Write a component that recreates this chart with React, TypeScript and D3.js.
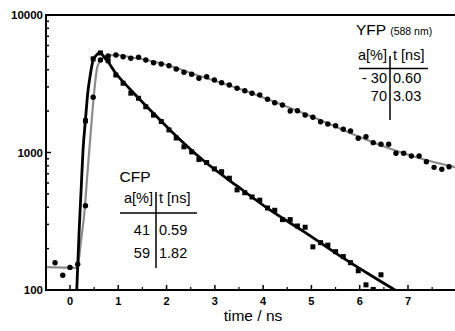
import * as d3 from "d3";
import React from "react";

// time channels (ns) shared by both decays
const times = [
  -0.31, -0.15, 0.0, 0.16, 0.32, 0.48, 0.63, 0.79, 0.95, 1.1, 1.26, 1.42, 1.57, 1.73,
  1.89, 2.05, 2.2, 2.36, 2.52, 2.67, 2.83, 2.99, 3.14, 3.3, 3.46, 3.62, 3.77, 3.93,
  4.09, 4.24, 4.4, 4.56, 4.71, 4.87, 5.03, 5.19, 5.34, 5.5, 5.66, 5.81, 5.97, 6.13,
  6.28, 6.44, 6.6, 6.75, 6.91, 7.07, 7.23, 7.38, 7.54, 7.7, 7.85,
];

// YFP counts (circles)
const yfpCounts = [
  158, 128, 146, 154, 410, 2520, 4708, 5033, 5117, 4974, 4843, 4925, 4708, 4499,
  4402, 4279, 4050, 3831, 3705, 3464, 3558, 3368, 3218, 3097, 2931, 2816, 2695, 2619,
  2437, 2302, 2216, 2004, 2014, 1874, 1803, 1675, 1612, 1566, 1475, 1434, 1269, 1303,
  1179, 1147, 1147, 987, 987, 943, 943, 857, 780, 755, 788,
];

// CFP counts (squares), channels 4..43 (others below 100)
const cfpStart = 4;
const cfpCounts = [
  1700, 4800, 5300, 4650, 3660, 3190, 2700, 2480, 2150, 1870, 1680, 1460, 1275, 1100,
  1010, 890, 845, 760, 725, 650, 535, 510, 475, 450, 395, 380, 325, 325, 292, 286,
  206, 221, 212, 190, 175, 158, 138, 109, 101, 129,
];

// fit curves
const cfpFitT = [0.14, 0.19, 0.23, 0.27, 0.32, 0.37, 0.41, 0.48, 0.55, 0.61, 0.66, 0.72, 0.79, 0.93, 1.24, 1.66, 2.07, 2.75, 3.46, 4.14, 4.82, 5.59, 6.21, 6.73];
const cfpFitV = [100, 273, 533, 1040, 1725, 2754, 3482, 4708, 5117, 5300, 5200, 4870, 4552, 3850, 2896, 2038, 1458, 882, 571, 382, 269, 177, 129, 100];

const yfpFitT = [-0.6, 0.15, 0.23, 0.31, 0.35, 0.4, 0.45, 0.52, 0.565, 0.636, 0.745, 0.95, 1.24, 1.86, 2.69, 3.52, 4.35, 5.18, 6.0, 6.83, 7.45, 8.0];
const yfpFitV = [147, 145, 231, 408, 631, 1042, 1722, 3204, 4186, 4700, 5035, 5117, 4950, 4477, 3601, 2896, 2253, 1723, 1297, 1008, 867, 780];

const xTicks = [0, 1, 2, 3, 4, 5, 6, 7];
const xMinor = [-0.5, 0.5, 1.5, 2.5, 3.5, 4.5, 5.5, 6.5, 7.5];
const yLabels = [100, 1000, 10000];
const yMinor = [200, 300, 400, 500, 600, 700, 800, 900, 2000, 3000, 4000, 5000, 6000, 7000, 8000, 9000];

const W = 455;
const H = 331;
const left = 46;
const right = 455;
const top = 15;
const bottom = 290;

export default function App() {
  const x = d3.scaleLinear().domain([0, 7]).range([70, 408]);
  const y = d3.scaleLog().domain([100, 10000]).range([bottom, top]);

  const line = d3
    .line<[number, number]>()
    .x((d) => x(d[0]))
    .y((d) => y(d[1]))
    .curve(d3.curveMonotoneX);

  const cfpFit = cfpFitT.map((t, i) => [t, cfpFitV[i]] as [number, number]);
  const yfpFit = yfpFitT.map((t, i) => [t, yfpFitV[i]] as [number, number]);
  const cfpPts = cfpCounts.map((v, i) => [times[i + cfpStart], v]);
  const yfpPts = yfpCounts.map((v, i) => [times[i], v]);

  const font = "Liberation Sans, Arial, sans-serif";

  return (
    <svg
      width={W}
      height={H}
      style={{ position: "absolute", left: 0, top: 0, background: "#fff" }}
      fontFamily={font}
    >
      <defs>
        <clipPath id="plot">
          <rect x={left} y={top} width={right - left} height={bottom - top} />
        </clipPath>
      </defs>

      <g clipPath="url(#plot)">
        <path d={line(yfpFit) || ""} fill="none" stroke="#8c8c8c" strokeWidth={2.2} />
        {yfpPts.map((d, i) => (
          <circle key={"y" + i} cx={x(d[0])} cy={y(d[1])} r={2.7} fill="#000" />
        ))}
        <path d={line(cfpFit) || ""} fill="none" stroke="#000" strokeWidth={2.8} />
        {cfpPts.map((d, i) => (
          <rect key={"c" + i} x={x(d[0]) - 2.5} y={y(d[1]) - 2.5} width={5} height={5} fill="#000" />
        ))}
      </g>

      {/* frame */}
      <line x1={left} x2={right} y1={top} y2={top} stroke="#000" strokeWidth={2} />
      <line x1={left} x2={right} y1={bottom} y2={bottom} stroke="#000" strokeWidth={2} />
      <line x1={left} x2={left} y1={top - 1} y2={bottom + 1} stroke="#000" strokeWidth={2} />

      {/* y ticks */}
      {yMinor.map((v) => (
        <line key={v} x1={left} x2={left + 3} y1={y(v)} y2={y(v)} stroke="#000" strokeWidth={1.5} />
      ))}
      {yLabels.map((v) => (
        <g key={v}>
          <line x1={left} x2={left + 5} y1={y(v)} y2={y(v)} stroke="#000" strokeWidth={1.5} />
          <text x={43} y={y(v) + 4} textAnchor="end" fontSize={11.5} fontWeight="bold">
            {v}
          </text>
        </g>
      ))}

      {/* x ticks */}
      {xMinor.map((t) => (
        <line key={t} x1={x(t)} x2={x(t)} y1={bottom} y2={bottom - 3} stroke="#000" strokeWidth={1.2} />
      ))}
      {xTicks.map((t) => (
        <g key={t}>
          <line x1={x(t)} x2={x(t)} y1={bottom} y2={bottom - 5} stroke="#000" strokeWidth={1.5} />
          <text x={x(t)} y={305} textAnchor="middle" fontSize={11} fontWeight="bold">
            {t}
          </text>
        </g>
      ))}
      <text x={253} y={321} textAnchor="middle" fontSize={15.5}>
        time / ns
      </text>

      {/* YFP legend */}
      <text x={356} y={35} fontSize={15.5}>
        YFP <tspan fontSize={10.5}>(588 nm)</tspan>
      </text>
      <text x={387} y={60} textAnchor="end" fontSize={14.5}>a[%]</text>
      <text x={393} y={60} fontSize={14.5}>t [ns]</text>
      <line x1={359} x2={428} y1={68.5} y2={68.5} stroke="#000" strokeWidth={1.5} />
      <line x1={390} x2={390} y1={56} y2={120} stroke="#000" strokeWidth={1.5} />
      <text x={387} y={83} textAnchor="end" fontSize={14.5}>- 30</text>
      <text x={393} y={83} fontSize={14.5}>0.60</text>
      <text x={387} y={101} textAnchor="end" fontSize={14.5}>70</text>
      <text x={393} y={101} fontSize={14.5}>3.03</text>

      {/* CFP legend */}
      <text x={135} y={182} textAnchor="middle" fontSize={15.5}>CFP</text>
      <text x={153} y={203} textAnchor="end" fontSize={14.5}>a[%]</text>
      <text x={159} y={203} fontSize={14.5}>t [ns]</text>
      <line x1={120} x2={197} y1={213} y2={213} stroke="#000" strokeWidth={1.5} />
      <line x1={156} x2={156} y1={192} y2={268} stroke="#000" strokeWidth={1.5} />
      <text x={150} y={235} textAnchor="end" fontSize={14.5}>41</text>
      <text x={159} y={235} fontSize={14.5}>0.59</text>
      <text x={150} y={258} textAnchor="end" fontSize={14.5}>59</text>
      <text x={159} y={258} fontSize={14.5}>1.82</text>
    </svg>
  );
}
